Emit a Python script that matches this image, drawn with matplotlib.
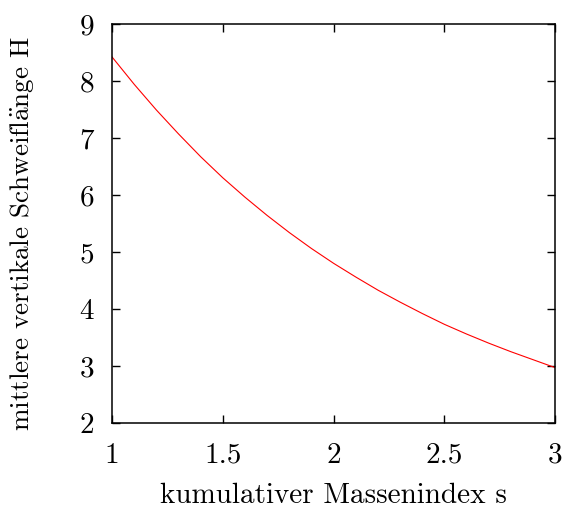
import matplotlib
matplotlib.use('Agg')
import matplotlib.pyplot as plt
import numpy as np

plt.rcParams['font.family'] = ['cmr10', 'DejaVu Serif']
plt.rcParams['mathtext.fontset'] = 'cm'
plt.rcParams['axes.unicode_minus'] = False
plt.rcParams['axes.formatter.use_mathtext'] = True

''' Daten (abgelesen) '''
s_werte = [1.0, 1.1, 1.2, 1.3, 1.4, 1.5, 1.6, 1.7, 1.8, 1.9, 2.0,
           2.1, 2.2, 2.3, 2.4, 2.5, 2.6, 2.7, 2.8, 2.9, 3.0]
h_werte = [8.42, 7.94, 7.49, 7.07, 6.67, 6.30, 5.96, 5.64, 5.34, 5.06, 4.80,
           4.56, 4.33, 4.12, 3.92, 3.73, 3.56, 3.40, 3.25, 3.11, 2.97]

x_ticks = [1, 1.5, 2, 2.5, 3]
x_labels = ['1', '1.5', '2', '2.5', '3']
y_ticks = [2, 3, 4, 5, 6, 7, 8, 9]

fig = plt.figure(figsize=(5.66, 5.09), dpi=100)
ax = fig.add_axes([0.198, 0.169, 0.783, 0.784])

ax.plot(s_werte, h_werte, color='red', linewidth=0.8)

ax.set_xlim(1, 3)
ax.set_ylim(2, 9)
ax.set_xticks(x_ticks)
ax.set_xticklabels(x_labels)
ax.set_yticks(y_ticks)
ax.set_yticklabels([str(v) for v in y_ticks])

ax.tick_params(direction='in', length=6, width=1, top=True, right=True,
               labelsize=21)
ax.tick_params(axis='x', pad=14)
ax.tick_params(axis='y', pad=13)
for sp in ax.spines.values():
    sp.set_linewidth(1.1)

ax.set_xlabel('kumulativer Massenindex s', fontsize=21, labelpad=10)
ax.set_ylabel(r'mittlere vertikale Schweifl$\mathrm{\ddot{a}}$nge H', fontsize=19.5)
ax.yaxis.set_label_coords(-0.172, 0.476)

fig.savefig('out.png', dpi=100)
